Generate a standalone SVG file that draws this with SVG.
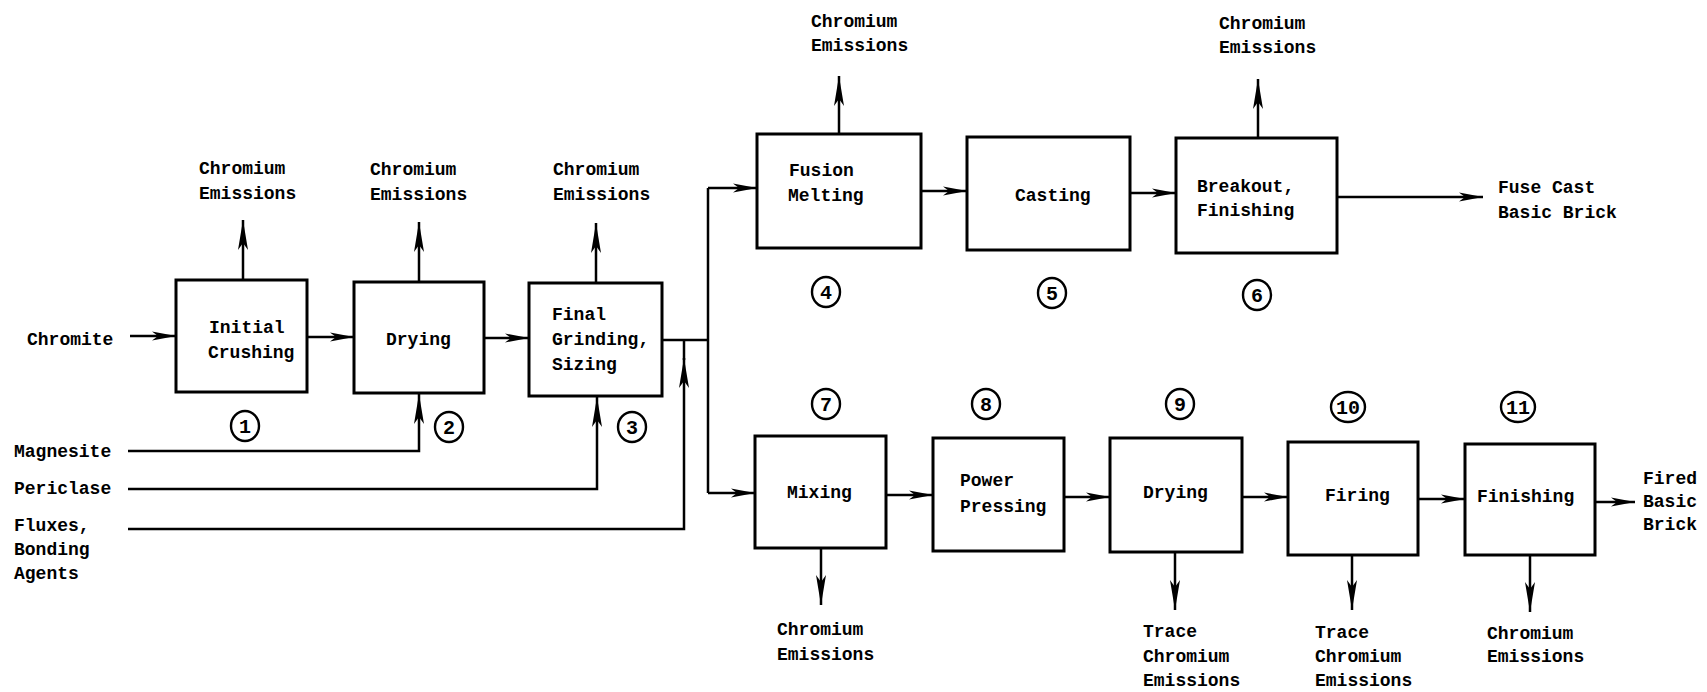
<svg xmlns="http://www.w3.org/2000/svg" width="1707" height="692" viewBox="0 0 1707 692">
<defs>
<style>
.bg{fill:#fff}
.box{fill:#fff;stroke:#000;stroke-width:3}
.ln{fill:none;stroke:#000;stroke-width:2.5}
.ah{marker-end:url(#ah)}
.av{marker-end:url(#av)}
text{font-family:"Liberation Mono","DejaVu Sans Mono",monospace;font-weight:bold;font-size:18px;fill:#000}
.num{fill:#fff;stroke:#000;stroke-width:2.4}
.nt{text-anchor:middle;font-size:20px}
</style>
<marker id="ah" markerUnits="userSpaceOnUse" markerWidth="26" markerHeight="12" viewBox="0 0 26 12" refX="24" refY="6" orient="auto">
<path d="M0,1.5 L24,6 L0,10.5 L6,6 z" fill="#000"/>
</marker>
<marker id="av" markerUnits="userSpaceOnUse" markerWidth="32" markerHeight="14" viewBox="0 0 32 14" refX="30" refY="7" orient="auto">
<path d="M0,2 L30,7 L0,12 L7,7 z" fill="#000"/>
</marker>
</defs>
<rect class="bg" x="0" y="0" width="1707" height="692"/>

<g id="connectors">
<line class="ln ah" x1="130" y1="336" x2="176" y2="336"/>
<line class="ln ah" x1="307" y1="337" x2="354" y2="337"/>
<line class="ln ah" x1="484" y1="338" x2="529" y2="338"/>
<polyline class="ln" points="662,340 708,340"/>
<line class="ln" x1="708" y1="188" x2="708" y2="493"/>
<line class="ln ah" x1="708" y1="188" x2="757" y2="188"/>
<line class="ln ah" x1="708" y1="493" x2="755" y2="493"/>
<polyline class="ln av" points="128,451 419,451 419,394"/>
<polyline class="ln av" points="128,489 597,489 597,397"/>
<polyline class="ln av" points="128,529 684,529 684,358"/>
<line class="ln" x1="684" y1="360" x2="684" y2="340"/>
<line class="ln av" x1="243" y1="280" x2="243" y2="220"/>
<line class="ln av" x1="419" y1="282" x2="419" y2="222"/>
<line class="ln av" x1="596" y1="283" x2="596" y2="223"/>
<line class="ln av" x1="839" y1="134" x2="839" y2="76"/>
<line class="ln av" x1="1258" y1="138" x2="1258" y2="79"/>
<line class="ln ah" x1="921" y1="191" x2="967" y2="191"/>
<line class="ln ah" x1="1130" y1="193" x2="1176" y2="193"/>
<line class="ln ah" x1="1337" y1="197" x2="1483" y2="197"/>
<line class="ln ah" x1="886" y1="495" x2="933" y2="495"/>
<line class="ln ah" x1="1064" y1="497" x2="1110" y2="497"/>
<line class="ln ah" x1="1242" y1="497" x2="1288" y2="497"/>
<line class="ln ah" x1="1418" y1="499" x2="1465" y2="499"/>
<line class="ln ah" x1="1595" y1="502" x2="1635" y2="502"/>
<line class="ln av" x1="821" y1="548" x2="821" y2="605"/>
<line class="ln av" x1="1175" y1="552" x2="1175" y2="610"/>
<line class="ln av" x1="1352" y1="555" x2="1352" y2="610"/>
<line class="ln av" x1="1530" y1="555" x2="1530" y2="612"/>
</g>

<g id="inputs">
<text x="27" y="345">Chromite</text>
<text x="14" y="457">Magnesite</text>
<text x="14" y="494">Periclase</text>
<text x="14" y="531">Fluxes,</text>
<text x="14" y="555">Bonding</text>
<text x="14" y="579">Agents</text>
</g>

<g id="node1">
<rect class="box" x="176" y="280" width="131" height="112"/>
<text x="209" y="333">Initial</text>
<text x="208" y="358">Crushing</text>
<ellipse class="num" cx="245" cy="426" rx="14" ry="15"/>
<text class="nt" x="245" y="433">1</text>
<text x="199" y="174">Chromium</text>
<text x="199" y="199">Emissions</text>
</g>

<g id="node2">
<rect class="box" x="354" y="282" width="130" height="111"/>
<text x="386" y="345">Drying</text>
<ellipse class="num" cx="449" cy="427" rx="14" ry="15"/>
<text class="nt" x="449" y="434">2</text>
<text x="370" y="175">Chromium</text>
<text x="370" y="200">Emissions</text>
</g>

<g id="node3">
<rect class="box" x="529" y="283" width="133" height="113"/>
<text x="552" y="320">Final</text>
<text x="552" y="345">Grinding,</text>
<text x="552" y="370">Sizing</text>
<ellipse class="num" cx="632" cy="427" rx="14" ry="15"/>
<text class="nt" x="632" y="434">3</text>
<text x="553" y="175">Chromium</text>
<text x="553" y="200">Emissions</text>
</g>

<g id="node4">
<rect class="box" x="757" y="134" width="164" height="114"/>
<text x="789" y="176">Fusion</text>
<text x="788" y="201">Melting</text>
<ellipse class="num" cx="826" cy="292" rx="14" ry="15"/>
<text class="nt" x="826" y="299">4</text>
<text x="811" y="27">Chromium</text>
<text x="811" y="51">Emissions</text>
</g>

<g id="node5">
<rect class="box" x="967" y="137" width="163" height="113"/>
<text x="1015" y="201">Casting</text>
<ellipse class="num" cx="1052" cy="293" rx="14" ry="15"/>
<text class="nt" x="1052" y="300">5</text>
</g>

<g id="node6">
<rect class="box" x="1176" y="138" width="161" height="115"/>
<text x="1197" y="192">Breakout,</text>
<text x="1197" y="216">Finishing</text>
<ellipse class="num" cx="1257" cy="295" rx="14" ry="15"/>
<text class="nt" x="1257" y="302">6</text>
<text x="1219" y="29">Chromium</text>
<text x="1219" y="53">Emissions</text>
</g>

<g id="output-fuse">
<text x="1498" y="193">Fuse Cast</text>
<text x="1498" y="218">Basic Brick</text>
</g>

<g id="node7">
<rect class="box" x="755" y="436" width="131" height="112"/>
<text x="787" y="498">Mixing</text>
<ellipse class="num" cx="826" cy="404" rx="14" ry="15"/>
<text class="nt" x="826" y="411">7</text>
<text x="777" y="635">Chromium</text>
<text x="777" y="660">Emissions</text>
</g>

<g id="node8">
<rect class="box" x="933" y="438" width="131" height="113"/>
<text x="960" y="486">Power</text>
<text x="960" y="512">Pressing</text>
<ellipse class="num" cx="986" cy="404" rx="14" ry="15"/>
<text class="nt" x="986" y="411">8</text>
</g>

<g id="node9">
<rect class="box" x="1110" y="438" width="132" height="114"/>
<text x="1143" y="498">Drying</text>
<ellipse class="num" cx="1180" cy="404" rx="14" ry="15"/>
<text class="nt" x="1180" y="411">9</text>
<text x="1143" y="637">Trace</text>
<text x="1143" y="662">Chromium</text>
<text x="1143" y="686">Emissions</text>
</g>

<g id="node10">
<rect class="box" x="1288" y="442" width="130" height="113"/>
<text x="1325" y="501">Firing</text>
<ellipse class="num" cx="1348" cy="407" rx="17" ry="15"/>
<text class="nt" x="1348" y="414">10</text>
<text x="1315" y="638">Trace</text>
<text x="1315" y="662">Chromium</text>
<text x="1315" y="686">Emissions</text>
</g>

<g id="node11">
<rect class="box" x="1465" y="444" width="130" height="111"/>
<text x="1477" y="502">Finishing</text>
<ellipse class="num" cx="1518" cy="407" rx="17" ry="15"/>
<text class="nt" x="1518" y="414">11</text>
<text x="1487" y="639">Chromium</text>
<text x="1487" y="662">Emissions</text>
</g>

<g id="output-fired">
<text x="1643" y="484">Fired</text>
<text x="1643" y="507">Basic</text>
<text x="1643" y="530">Brick</text>
</g>
</svg>
